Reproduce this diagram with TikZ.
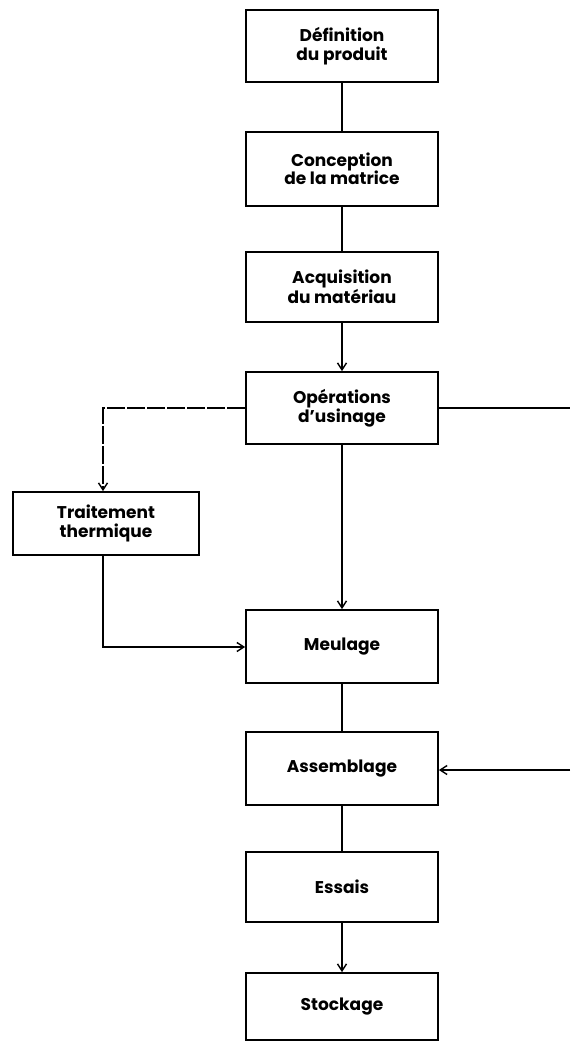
\documentclass[tikz,border=0pt]{standalone}
\usepackage{fontspec}
\setmainfont{Poppins}
\usetikzlibrary{arrows.meta}
\begin{document}
\begin{tikzpicture}[x=1pt,y=-1pt,
  stepbox/.style={draw, line width=1.7pt, minimum width=192pt, minimum height=72pt,
    align=center, inner sep=0pt,
    font=\fontsize{17pt}{18.5pt}\selectfont\bfseries},
  link/.style={line width=1.6pt},
  tip/.style={-{Straight Barb[length=7pt,width=9pt,line width=1.4pt]}},
  arr/.style={link, tip},
  side/.style={line width=1.6pt, dash pattern=on 18pt off 2pt}]
  \useasboundingbox (0,0) rectangle (570,1043);

  % main chain of steps
  \node[stepbox, minimum height=72pt] (def) at (342,46) {Définition\\du produit};
  \node[stepbox, minimum height=74pt] (conc) at (342,169) {Conception\\de la matrice};
  \node[stepbox, minimum height=70pt] (acq) at (342,287) {Acquisition\\du matériau};
  \node[stepbox, minimum height=72pt] (ops) at (342,408) {Opérations\\d’usinage};
  \node[stepbox, minimum height=73pt] (meul) at (342,646.5) {Meulage};
  \node[stepbox, minimum height=73pt] (ass) at (342,768.5) {Assemblage};
  \node[stepbox, minimum height=70pt] (ess) at (342,887) {Essais};
  \node[stepbox, minimum height=67pt] (stock) at (342,1006.5) {Stockage};

  % side step
  \node[stepbox, minimum width=186pt, minimum height=63pt] (trait) at (106,523.5) {Traitement\\thermique};

  % free ends of the branches
  \coordinate (rA) at (570,408);
  \coordinate (rB) at (570,770);
  \coordinate (lA) at (103,408);
  \coordinate (lB) at (103,647);

  % vertical links
  \draw[link] (def.south) -- (conc.north);
  \draw[link] (conc.south) -- (acq.north);
  \draw[arr] (acq.south) -- (ops.north);
  \draw[arr] (ops.south) -- (meul.north);
  \draw[link] (meul.south) -- (ass.north);
  \draw[link] (ass.south) -- (ess.north);
  \draw[arr] (ess.south) -- (stock.north);

  % heat treatment branch
  \draw[side, tip] (ops.west) -- (lA) -- (lA |- trait.north);
  \draw[arr] (lA |- trait.south) -- (lB) -- (meul.west |- lB);

  % branch to assembly
  \draw[link] (ops.east) -- (rA);
  \draw[arr] (rB) -- (ass.east |- rB);
\end{tikzpicture}
\end{document}
